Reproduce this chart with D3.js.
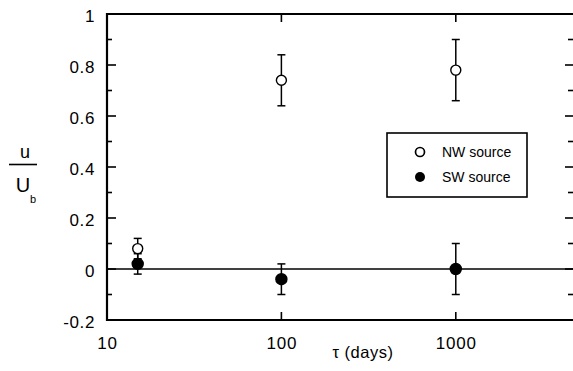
<!DOCTYPE html>
<html><head><meta charset="utf-8">
<script src="https://cdn.jsdelivr.net/npm/d3@7"></script>
<style>body{margin:0;background:#fff}svg{display:block}text{font-family:"Liberation Sans",Arial,sans-serif;fill:#000}</style>
</head><body>
<script>
const tau = [15, 100, 1000];
const nwValues = [0.08, 0.74, 0.78];
const nwLow = [0.04, 0.64, 0.66];
const nwHigh = [0.12, 0.84, 0.90];
const swValues = [0.02, -0.04, 0.0];
const swLow = [-0.02, -0.10, -0.10];
const swHigh = [0.06, 0.02, 0.10];
const xTicks = [10, 100, 1000];
const yTicks = [-0.2, 0, 0.2, 0.4, 0.6, 0.8, 1];
const yMinor = [-0.1, 0.1, 0.3, 0.5, 0.7, 0.9];
const legendLabels = ["NW source", "SW source"];

const W = 573, H = 371;
const svg = d3.select("body").append("svg").attr("width", W).attr("height", H);
const L = 107, R = 573, T = 14, B = 320;
const x = d3.scaleLog().domain([10, 4700]).range([L, R]);
const y = d3.scaleLinear().domain([-0.2, 1]).range([B, T]);

// error bars & points first
function series(vals, lo, hi, filled) {
  const g = svg.append("g");
  tau.forEach((t, i) => {
    const cx = x(t);
    g.append("line").attr("x1", cx).attr("x2", cx).attr("y1", y(lo[i])).attr("y2", y(hi[i])).attr("stroke", "#000").attr("stroke-width", 1.5);
    [lo[i], hi[i]].forEach(v => g.append("line").attr("x1", cx - 4).attr("x2", cx + 4).attr("y1", y(v)).attr("y2", y(v)).attr("stroke", "#000").attr("stroke-width", 1.5));
  });
  tau.forEach((t, i) => {
    g.append("circle").attr("cx", x(t)).attr("cy", y(vals[i])).attr("r", filled ? 5.5 : 5)
      .attr("fill", filled ? "#000" : "#fff").attr("stroke", "#000").attr("stroke-width", 1.4);
  });
}

// zero line
svg.append("line").attr("x1", L).attr("x2", R).attr("y1", y(0)).attr("y2", y(0))
  .attr("stroke", "#000").attr("stroke-width", 1.3);

// frame: polyline through scale range ends
const fx = x.range(), fy = y.range();
svg.append("polyline")
  .attr("points", [[W, fy[1]], [fx[0], fy[1]], [fx[0], fy[0]], [W, fy[0]]].map(p => p.join(",")).join(" "))
  .style("fill", "none").style("stroke", "black").style("stroke-width", "2.2px");
svg.append("polyline")
  .attr("points", [[W, fy[1] + 0.5], [fx[0] + 0.5, fy[1] + 0.5], [fx[0] + 0.5, fy[0] - 0.5], [W, fy[0] - 0.5]].map(p => p.join(",")).join(" "))
  .style("fill", "none").style("stroke", "black").style("stroke-width", "1px");

series(nwValues, nwLow, nwHigh, false);
series(swValues, swLow, swHigh, true);

// left axis labels
const yl = d3.axisLeft(y).tickValues(yTicks).tickSize(0).tickPadding(12).tickFormat(d => d === 0 ? "0" : String(d));
const gL = svg.append("g").attr("transform", `translate(${L},0)`).call(yl);
gL.select(".domain").remove();
gL.selectAll("text").attr("font-size", 17).attr("letter-spacing", 0.6).attr("font-family", "Liberation Sans, Arial, sans-serif").attr("dy", "0.42em");

// bottom axis labels
const xb = d3.axisBottom(x).tickValues(xTicks).tickSize(0).tickPadding(17).tickFormat(d3.format("d"));
const gB = svg.append("g").attr("transform", `translate(0,${B})`).call(xb);
gB.select(".domain").remove();
gB.selectAll("text").attr("font-size", 17).attr("letter-spacing", 0.8).attr("font-family", "Liberation Sans, Arial, sans-serif");

// ticks inward
const tickG = svg.append("g").attr("stroke", "#000").attr("stroke-width", 1.6);
yTicks.forEach(v => {
  tickG.append("line").attr("x1", L).attr("x2", L + 9).attr("y1", y(v)).attr("y2", y(v));
  tickG.append("line").attr("x1", R).attr("x2", R - 8).attr("y1", y(v)).attr("y2", y(v));
});
yMinor.forEach(v => {
  tickG.append("line").attr("x1", L).attr("x2", L + 5).attr("y1", y(v)).attr("y2", y(v));
  tickG.append("line").attr("x1", R).attr("x2", R - 5).attr("y1", y(v)).attr("y2", y(v));
});
xTicks.forEach(v => {
  tickG.append("line").attr("x1", x(v)).attr("x2", x(v)).attr("y1", B).attr("y2", B - 8);
  tickG.append("line").attr("x1", x(v)).attr("x2", x(v)).attr("y1", T).attr("y2", T + 8);
});

// axis titles
svg.append("text").attr("x", 363).attr("y", 358).attr("text-anchor", "middle").attr("font-size", 16.5).attr("letter-spacing", 0.5).text("τ (days)");
svg.append("text").attr("x", 25).attr("y", 158).attr("text-anchor", "middle").attr("font-size", 18).text("u");
svg.append("line").attr("x1", 9).attr("x2", 37).attr("y1", 164.5).attr("y2", 164.5).attr("stroke", "#000").attr("stroke-width", 1.6);
svg.append("text").attr("x", 23).attr("y", 192).attr("text-anchor", "middle").attr("font-size", 20).text("U");
svg.append("text").attr("x", 33).attr("y", 203).attr("text-anchor", "middle").attr("font-size", 11).text("b");

// legend
const lg = svg.append("g");
lg.append("rect").attr("x", 387).attr("y", 133).attr("width", 140).attr("height", 64).attr("fill", "#fff").attr("stroke", "#000").attr("stroke-width", 1.6);
lg.append("circle").attr("cx", 420).attr("cy", 152).attr("r", 4.5).attr("fill", "#fff").attr("stroke", "#000").attr("stroke-width", 1.7);
lg.append("circle").attr("cx", 420).attr("cy", 177).attr("r", 5).attr("fill", "#000");
lg.append("text").attr("x", 442).attr("y", 157).attr("font-size", 14).text(legendLabels[0]);
lg.append("text").attr("x", 442).attr("y", 182).attr("font-size", 14).text(legendLabels[1]);
</script>
</body></html>
